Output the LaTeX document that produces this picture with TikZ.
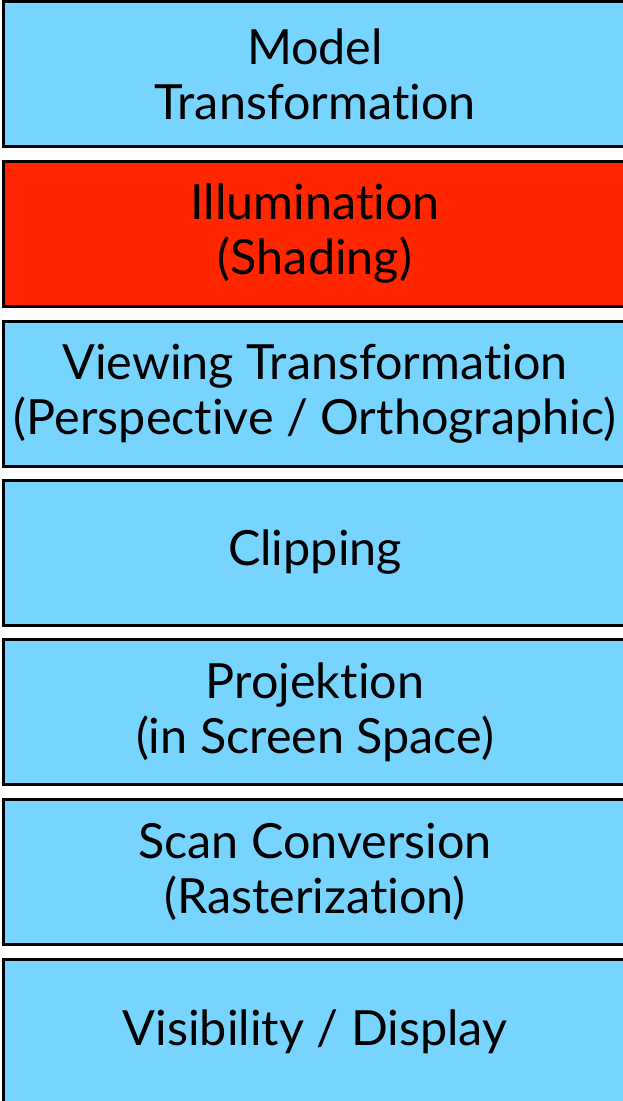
\documentclass[tikz,border=0pt]{standalone}
\usepackage{fontspec}
\setmainfont{Lato}[RawFeature={-liga,-dlig}]
\definecolor{sky}{RGB}{118,212,255}
\definecolor{alarm}{RGB}{255,38,0}
\begin{document}
\begin{tikzpicture}[x=1pt,y=1pt,
  stage/.style={draw=black, line width=3pt, minimum width=623pt, minimum height=145pt,
    inner sep=0pt, align=center, font=\fontsize{48.5}{55}\selectfont, fill=sky}]
\useasboundingbox (0,0) rectangle (622,-1101);
\node[stage] (n1) at (315,-74) {Model\\Transformation};
\node[stage, fill=alarm] (n2) at (315,-234) {Illumination\\(Shading)};
\node[stage] (n3) at (315,-393.5) {Viewing Transformation\\(Perspective / Orthographic)};
\node[stage] (n4) at (315,-552.5) {Clipping};
\node[stage] (n5) at (315,-712) {Projektion\\(in Screen Space)};
\node[stage] (n6) at (315,-871.5) {Scan Conversion\\(Rasterization)};
\node[stage] (n7) at (315,-1032) {Visibility / Display};
\end{tikzpicture}
\end{document}
